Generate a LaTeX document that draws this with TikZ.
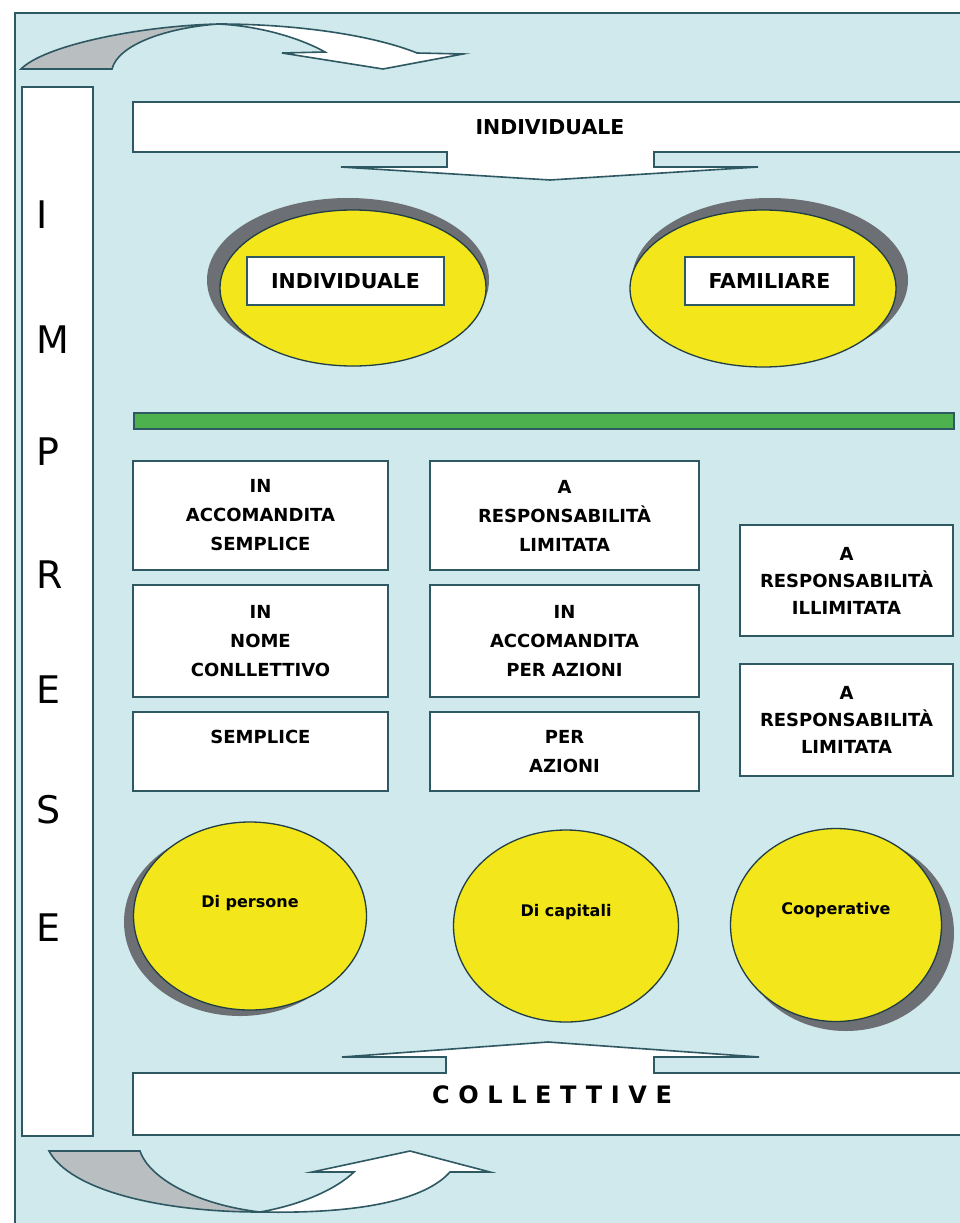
\documentclass[tikz,border=0pt]{standalone}
\usepackage{fontspec}
\setmainfont{DejaVu Sans}
\newfontfamily\spacedfont{DejaVu Sans}[LetterSpace=36]
\usetikzlibrary{shapes.geometric}
\definecolor{bgblue}{RGB}{208,233,237}
\definecolor{outl}{RGB}{46,88,98}
\definecolor{ylw}{RGB}{243,230,27}
\definecolor{shad}{RGB}{108,111,115}
\definecolor{garrow}{RGB}{185,190,193}
\definecolor{grn}{RGB}{77,178,77}
\begin{document}
\begin{tikzpicture}[x=1pt,y=-1pt,
  ol/.style={draw=outl, line width=1.6pt},
  txtbox/.style={ol, fill=white, align=center, inner sep=0pt, font=\bfseries\fontsize{18}{29}\selectfont},
  rtbox/.style={txtbox, font=\bfseries\fontsize{18}{27}\selectfont},
  ell/.style={ellipse, draw=outl!70!black, line width=1.3pt, fill=ylw, inner sep=0pt},
  bigtxt/.style={inner sep=0pt, font=\bfseries\fontsize{20.5}{24}\selectfont},
  elltxt/.style={inner sep=0pt, font=\bfseries\fontsize{16}{19}\selectfont},
  letter/.style={inner sep=0pt, anchor=west, font=\fontsize{38}{40}\selectfont}]
\useasboundingbox (0,0) rectangle (960,1223);
\clip (0,0) rectangle (960,1223);
\fill[white] (0,0) rectangle (960,1223);
\fill[bgblue] (15,13) rectangle (975,1235);
\draw[outl, line width=1.6pt] (15,1235) -- (15,13) -- (975,13);

% top curved arrow
\draw[ol, fill=garrow] (21,69) -- (112,69) .. controls (118,45) and (165,28) .. (218,24)
  .. controls (140,26) and (45,45) .. cycle;
\draw[ol, fill=white] (218,24) .. controls (300,24) and (375,36) .. (417,53) -- (463,54) -- (383,69)
  -- (282,53) -- (325,52) .. controls (300,38) and (260,26) .. cycle;

% left bar
\node[ol, fill=white, minimum width=71pt, minimum height=1049pt, inner sep=0pt, anchor=north west] (bar) at (21,86) {};
\node[letter] (l1) at (36,215) {I};
\node[letter] (l2) at (36,340) {M};
\node[letter] (l3) at (36,452) {P};
\node[letter] (l4) at (36,575) {R};
\node[letter] (l5) at (36,690) {E};
\node[letter] (l6) at (36,810) {S};
\node[letter] (l7) at (36,928) {E};

% top banner
\draw[ol, fill=white] (133,102) -- (970,102) -- (970,152) -- (654,152) -- (654,167) -- (758,167)
  -- (550,180) -- (341,167) -- (447,167) -- (447,152) -- (133,152) -- cycle;
\node[bigtxt] (tind) at (550,127) {INDIVIDUALE};

% top ellipses
\fill[shad] (348,280) ellipse [x radius=141, y radius=82];
\node[ell, minimum width=266pt, minimum height=156pt] (e1) at (353,288) {};
\node[ol, fill=white, minimum width=197pt, minimum height=48pt, inner sep=0pt, font=\bfseries\fontsize{20.5}{24}\selectfont] (i1) at (345.5,281) {INDIVIDUALE};
\fill[shad] (770,280) ellipse [x radius=138, y radius=82];
\node[ell, minimum width=266pt, minimum height=157pt] (e2) at (763,288.5) {};
\node[ol, fill=white, minimum width=169pt, minimum height=48pt, inner sep=0pt, font=\bfseries\fontsize{20.5}{24}\selectfont] (i2) at (769.5,281) {FAMILIARE};

% green bar
\draw[draw=outl, line width=1.2pt, fill=grn] (134,413) rectangle (954,429);

% middle boxes
\node[txtbox, minimum width=255pt, minimum height=109pt] (b11) at (260.5,515.5) {IN\\ACCOMANDITA\\SEMPLICE};
\node[txtbox, minimum width=255pt, minimum height=112pt] (b12) at (260.5,641) {IN\\NOME\\CONLLETTIVO};
\node[txtbox, minimum width=255pt, minimum height=79pt] (b13) at (260.5,751.5) {SEMPLICE\\\mbox{}};
\node[txtbox, minimum width=269pt, minimum height=109pt] (b21) at (564.5,515.5) {A\\RESPONSABILITÀ\\LIMITATA};
\node[txtbox, minimum width=269pt, minimum height=112pt] (b22) at (564.5,641) {IN\\ACCOMANDITA\\PER AZIONI};
\node[txtbox, minimum width=269pt, minimum height=79pt] (b23) at (564.5,751.5) {PER\\AZIONI};
\node[rtbox, minimum width=213pt, minimum height=111pt] (b31) at (846.5,580.5) {A\\RESPONSABILITÀ\\ILLIMITATA};
\node[rtbox, minimum width=213pt, minimum height=112pt] (b32) at (846.5,720) {A\\RESPONSABILITÀ\\LIMITATA};

% bottom ellipses
\fill[shad] (240,922) ellipse [x radius=116, y radius=94];
\node[ell, minimum width=233pt, minimum height=188pt] (p1) at (250,916) {};
\node[elltxt] (t1) at ([yshift=13pt]p1.center) {Di persone};
\node[ell, minimum width=225pt, minimum height=192pt] (p2) at (566,926) {};
\node[elltxt] (t2) at ([yshift=14pt]p2.center) {Di capitali};
\fill[shad] (846,933) ellipse [x radius=108, y radius=98];
\node[ell, minimum width=211pt, minimum height=193pt] (p3) at (836,925) {};
\node[elltxt] (t3) at ([yshift=15pt]p3.center) {Cooperative};

% bottom banner
\draw[ol, fill=white] (133,1135) -- (970,1135) -- (970,1073) -- (654,1073) -- (654,1057) -- (759,1057)
  -- (548,1042) -- (342,1057) -- (446,1057) -- (446,1073) -- (133,1073) -- cycle;
\node[inner sep=0pt, font=\spacedfont\bfseries\fontsize{24}{28}\selectfont] (tcol) at (552,1095) {COLLETTIVE};

% bottom curved arrow
\draw[ol, fill=garrow] (49,1151) -- (140,1151) .. controls (150,1180) and (200,1205) .. (260,1212)
  .. controls (160,1212) and (70,1190) .. cycle;
\draw[ol, fill=white] (260,1212) .. controls (300,1205) and (335,1190) .. (354,1172) -- (312,1172)
  -- (410,1151) -- (490,1172) -- (450,1172) .. controls (425,1200) and (360,1214) .. cycle;
\end{tikzpicture}
\end{document}
